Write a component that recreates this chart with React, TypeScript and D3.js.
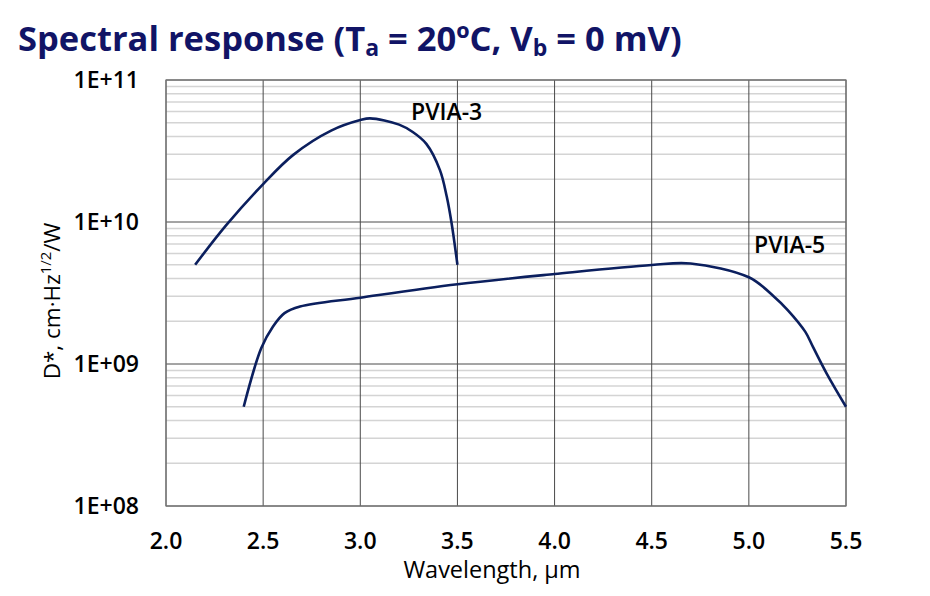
import React from "react";
import * as d3 from "d3";

const pvia3Wavelength = [2.15, 2.31, 2.5, 2.655, 2.85, 3.0, 3.05, 3.2, 3.27, 3.34, 3.41, 3.445, 3.47, 3.5];
const pvia3D = [5.0e9, 9.5e9, 1.85e10, 2.97e10, 4.4e10, 5.22e10, 5.37e10, 4.85e10, 4.3e10, 3.55e10, 2.32e10, 1.51e10, 9.8e9, 5.0e9];

const pvia5Wavelength = [2.4, 2.49, 2.55, 2.61, 2.69, 3.0, 3.5, 4.0, 4.5, 4.7, 5.0, 5.13, 5.2, 5.29, 5.33, 5.4, 5.5];
const pvia5D = [5.0e8, 1.29e9, 1.83e9, 2.28e9, 2.54e9, 2.93e9, 3.64e9, 4.3e9, 4.98e9, 5.1e9, 4.08e9, 2.98e9, 2.4e9, 1.69e9, 1.32e9, 8.6e8, 5.0e8];

const xTicks = [2.0, 2.5, 3.0, 3.5, 4.0, 4.5, 5.0, 5.5];
const yTicks = [1e8, 1e9, 1e10, 1e11];
const yTickLabels = ["1E+08", "1E+09", "1E+10", "1E+11"];

const seriesNames = ["PVIA-3", "PVIA-5"];

const W = 930;
const H = 596;
const left = 166;
const right = 846;
const top = 80;
const bottom = 506;
const FONT = "'Open Sans', sans-serif";
const LINE = "#0b1f5e";

export default function App() {
  const x = d3.scaleLinear().domain([2.0, 5.5]).range([left, right]);
  const y = d3.scaleLog().domain([1e8, 1e11]).range([bottom, top]);

  const minor: number[] = [];
  for (let e = 8; e < 11; e++) {
    for (let m = 2; m <= 9; m++) minor.push(m * Math.pow(10, e));
  }

  const line = d3
    .line<[number, number]>()
    .x((d) => x(d[0]))
    .y((d) => y(d[1]))
    .curve(d3.curveCatmullRom.alpha(0.5));

  const s3 = pvia3Wavelength.map((w, i) => [w, pvia3D[i]] as [number, number]);
  const s5 = pvia5Wavelength.map((w, i) => [w, pvia5D[i]] as [number, number]);

  return (
    <svg
      width={W}
      height={H}
      style={{ position: "absolute", left: 0, top: 0, background: "#fff" }}
      fontFamily={FONT}
    >
      <text x={18} y={51} fontSize={34.5} fontWeight={700} fill="#111466">
        Spectral response (T
        <tspan fontSize={23} dy={5}>a</tspan>
        <tspan dy={-5}> = 20ºC, V</tspan>
        <tspan fontSize={23} dy={5}>b</tspan>
        <tspan dy={-5}> = 0 mV)</tspan>
      </text>

      {minor.map((v, i) => (
        <line key={"mn" + i} x1={left} x2={right} y1={y(v)} y2={y(v)} stroke="#d4d4d4" strokeWidth={1.5} />
      ))}
      {yTicks.map((v, i) => (
        <line key={"my" + i} x1={left} x2={right} y1={y(v)} y2={y(v)} stroke="#4a4a4a" strokeWidth={1} />
      ))}
      {xTicks.map((v, i) => (
        <line key={"mx" + i} x1={x(v)} x2={x(v)} y1={top} y2={bottom} stroke="#4a4a4a" strokeWidth={1} />
      ))}
      <rect x={left} y={top} width={right - left} height={bottom - top} fill="none" stroke="#777" strokeWidth={1.2} />

      <path d={line(s3) || ""} fill="none" stroke={LINE} strokeWidth={2.6} />
      <path d={line(s5) || ""} fill="none" stroke={LINE} strokeWidth={2.6} />

      <text x={411} y={120} fontSize={23} fontWeight={600} fill="#000">{seriesNames[0]}</text>
      <text x={754} y={253} fontSize={23} fontWeight={600} fill="#000">{seriesNames[1]}</text>

      {yTicks.map((v, i) => (
        <text key={"yl" + i} x={139} y={y(v)} dy="0.35em" textAnchor="end" fontSize={23} fontWeight={600} fill="#000">
          {yTickLabels[i]}
        </text>
      ))}
      {xTicks.map((v, i) => (
        <text key={"xl" + i} x={x(v)} y={549} textAnchor="middle" fontSize={23} fontWeight={600} fill="#000">
          {v.toFixed(1)}
        </text>
      ))}
      <text x={492} y={578} textAnchor="middle" fontSize={23.5} fill="#000">
        Wavelength, µm
      </text>
      <text
        transform={`translate(60, 301) rotate(-90)`}
        textAnchor="middle"
        fontSize={22.5}
        fill="#000"
      >
        D*, cm·Hz
        <tspan fontSize={15} dy={-9}>1/2</tspan>
        <tspan dy={9}>/W</tspan>
      </text>
    </svg>
  );
}
